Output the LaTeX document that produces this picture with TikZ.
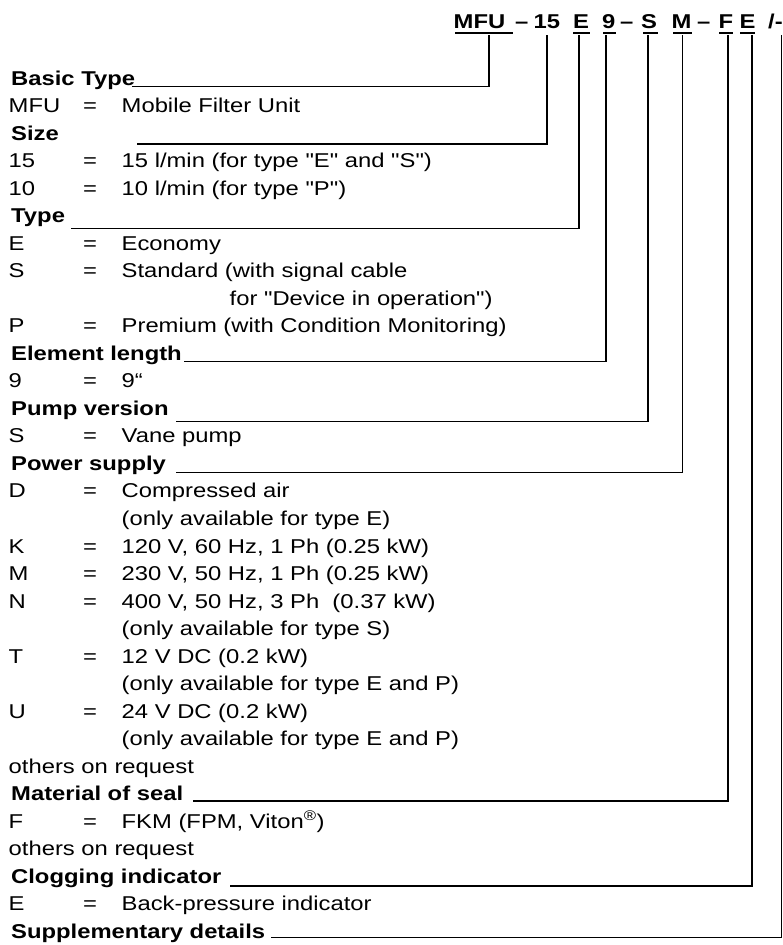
\documentclass[tikz,border=0pt]{standalone}
\usepackage{fontspec}
\setmainfont{Liberation Sans}[FakeStretch=1.19,Ligatures=TeXOff]
\newcommand\myrow[4]{%
  \node[lbl] (k#1) at (8.5,{85+27.53*#2}) {#3};
  \node[lbl] (q#1) at (83,{85+27.53*#2}) {=};
  \node[lbl] (v#1) at (121.5,{85+27.53*#2}) {#4};}
\newcommand\myval[3]{%
  \node[lbl] (v#1) at (121.5,{85+27.53*#2}) {#3};}
\newcommand\myhead[3]{%
  \node[hd] (h#1) at (11,{85+27.53*#2}) {#3};}
\begin{document}
\begin{tikzpicture}[x=1pt,y=-1pt,
  lbl/.style={anchor=base west,inner sep=0pt,font=\fontsize{20}{24}\selectfont},
  hd/.style={lbl,font=\bfseries\fontsize{20}{24}\selectfont},
  ld/.style={line width=1.5pt,black},
  ul/.style={line width=1.6pt,black}]
\useasboundingbox (0,0) rectangle (782,945);
% header code
\node[hd] (cMFU) at (453.5,28.3) {MFU};
\node[hd] (cd1) at (515,28.3) {–};
\node[hd] (c15) at (533.5,28.3) {15};
\node[hd] (cE) at (573,28.3) {E};
\node[hd] (c9) at (602,28.3) {9};
\node[hd] (cd2) at (620,28.3) {–};
\node[hd] (cS) at (641,28.3) {S};
\node[hd] (cM) at (671.5,28.3) {M};
\node[hd] (cd3) at (697,28.3) {–};
\node[hd] (cF) at (718.5,28.3) {F};
\node[hd] (cE2) at (739.5,28.3) {E};
\node[hd] (cX) at (768,28.3) {/-};
% underlines
\draw[ul] (455,32.8) -- (513,32.8);
\draw[ul] (573,32.8) -- (590,32.8);
\draw[ul] (603,32.8) -- (616,32.8);
\draw[ul] (643,32.8) -- (658,32.8);
\draw[ul] (673,32.8) -- (692,32.8);
\draw[ul] (719,32.8) -- (733,32.8);
\draw[ul] (740,32.8) -- (755,32.8);
% entries
\myhead{0}{0}{Basic Type}
\myrow{1}{1}{MFU}{Mobile Filter Unit}
\myhead{2}{2}{Size}
\myrow{3}{3}{15}{15 l/min (for type "E" and "S")}
\myrow{4}{4}{10}{10 l/min (for type "P")}
\myhead{5}{5}{Type}
\myrow{6}{6}{E}{Economy}
\myrow{7}{7}{S}{Standard (with signal cable}
\node[lbl] (v8) at (229.5,{85+27.53*8}) {for "Device in operation")};
\myrow{9}{9}{P}{Premium (with Condition Monitoring)}
\myhead{10}{10}{Element length}
\myrow{11}{11}{9}{9“}
\myhead{12}{12}{Pump version}
\myrow{13}{13}{S}{Vane pump}
\myhead{14}{14}{Power supply}
\myrow{15}{15}{D}{Compressed air}
\myval{16}{16}{(only available for type E)}
\myrow{17}{17}{K}{120 V, 60 Hz, 1 Ph (0.25 kW)}
\myrow{18}{18}{M}{230 V, 50 Hz, 1 Ph (0.25 kW)}
\myrow{19}{19}{N}{400 V, 50 Hz, 3 Ph\ \ (0.37 kW)}
\myval{20}{20}{(only available for type S)}
\myrow{21}{21}{T}{12 V DC (0.2 kW)}
\myval{22}{22}{(only available for type E and P)}
\myrow{23}{23}{U}{24 V DC (0.2 kW)}
\myval{24}{24}{(only available for type E and P)}
\node[lbl] (v25) at (8.5,{85+27.53*25}) {others on request};
\myhead{26}{26}{Material of seal}
\myrow{27}{27}{F}{FKM (FPM, Viton\textsuperscript{®})}
\node[lbl] (v28) at (8.5,{85+27.53*28}) {others on request};
\myhead{29}{29}{Clogging indicator}
\myrow{30}{30}{E}{Back-pressure indicator}
\myhead{31}{31}{Supplementary details}
% connectors
\coordinate (t1) at (489,35);   \coordinate (e1) at (132,86.7);
\coordinate (t2) at (547,35);   \coordinate (e2) at (137,144);
\coordinate (t3) at (579,35);   \coordinate (e3) at (71,228.3);
\coordinate (t4) at (606,35);   \coordinate (e4) at (184,361.7);
\coordinate (t5) at (648,35);   \coordinate (e5) at (176,421.7);
\coordinate (t6) at (682.5,35); \coordinate (e6) at (176,472.7);
\coordinate (t7) at (728,35);   \coordinate (e7) at (193,801);
\coordinate (t8) at (752,35);   \coordinate (e8) at (230,886);
\coordinate (t9) at (781.3,35); \coordinate (e9) at (271,937.3);
\foreach \i in {1,...,9} {\draw[ld] (t\i) |- (e\i);}
\end{tikzpicture}
\end{document}
